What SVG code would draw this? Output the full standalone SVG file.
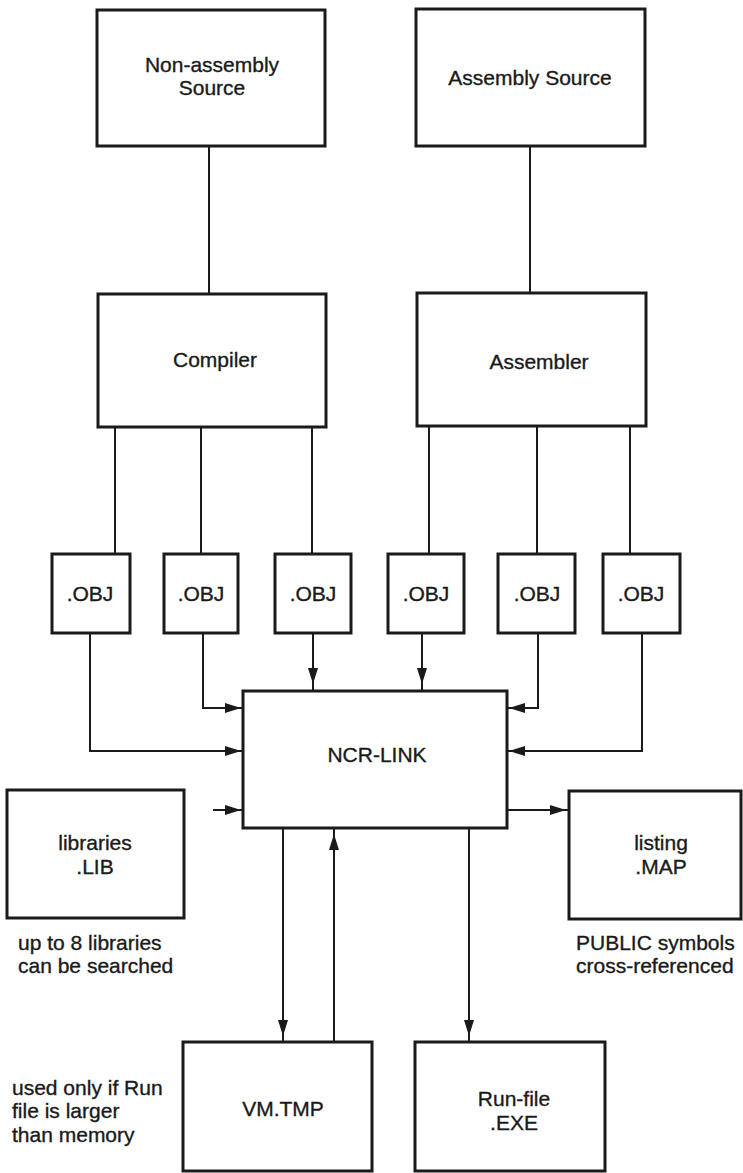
<svg xmlns="http://www.w3.org/2000/svg" xmlns:xlink="http://www.w3.org/1999/xlink" width="743" height="1173" viewBox="0 0 743 1173">
<style>
.box{fill:#fff;stroke:#1a1a1a;stroke-width:3}
.ln{fill:none;stroke:#1a1a1a;stroke-width:2}
.t{font-family:"Liberation Sans",Arial,sans-serif;font-size:21px;fill:#1a1a1a;stroke:#1a1a1a;stroke-width:0.35}
.c{text-anchor:middle}
</style>
<defs>
<path id="ah" d="M0,0 L-16,-5 L-16,5 Z" fill="#1a1a1a"/>
</defs>
<rect width="743" height="1173" fill="#fff"/>
<g id="connectors">
<path class="ln" d="M209,146 V294"/>
<path class="ln" d="M530,146 V293"/>
<path class="ln" d="M115,427 V554"/>
<path class="ln" d="M201,427 V554"/>
<path class="ln" d="M312,427 V554"/>
<path class="ln" d="M429,426 V554"/>
<path class="ln" d="M537,426 V554"/>
<path class="ln" d="M630,426 V554"/>
<path class="ln" d="M90,633 V751 H243"/>
<path class="ln" d="M203,633 V708 H243"/>
<path class="ln" d="M313,633 V691"/>
<path class="ln" d="M422,633 V691"/>
<path class="ln" d="M538,633 V708 H507"/>
<path class="ln" d="M642,633 V751 H507"/>
<path class="ln" d="M213,810 H243"/>
<path class="ln" d="M507,810 H569"/>
<path class="ln" d="M283,828 V1042"/>
<path class="ln" d="M334,828 V1042"/>
<path class="ln" d="M469,828 V1042"/>
<use href="#ah" transform="translate(241,751)"/>
<use href="#ah" transform="translate(241,708)"/>
<use href="#ah" transform="translate(313,684) rotate(90)"/>
<use href="#ah" transform="translate(422,684) rotate(90)"/>
<use href="#ah" transform="translate(509,708) rotate(180)"/>
<use href="#ah" transform="translate(509,751) rotate(180)"/>
<use href="#ah" transform="translate(241,810)"/>
<use href="#ah" transform="translate(566,810)"/>
<use href="#ah" transform="translate(283,1036) rotate(90)"/>
<use href="#ah" transform="translate(334,834) rotate(-90)"/>
<use href="#ah" transform="translate(469,1036) rotate(90)"/>
</g>
<g id="nonasm"><rect class="box" x="97" y="10" width="228" height="136"/><text class="t c" x="212" y="72">Non-assembly</text><text class="t c" x="212" y="95">Source</text></g>
<g id="asmsrc"><rect class="box" x="416" y="9" width="229" height="137"/><text class="t c" x="530" y="85">Assembly Source</text></g>
<g id="compiler"><rect class="box" x="98" y="294" width="228" height="133"/><text class="t c" x="215" y="367">Compiler</text></g>
<g id="assembler"><rect class="box" x="417" y="293" width="229" height="133"/><text class="t c" x="539" y="369">Assembler</text></g>
<g id="obj1"><rect class="box" x="52" y="554" width="78" height="79"/><text class="t c" x="90" y="601">.OBJ</text></g>
<g id="obj2"><rect class="box" x="164" y="554" width="74" height="79"/><text class="t c" x="201" y="601">.OBJ</text></g>
<g id="obj3"><rect class="box" x="275" y="554" width="76" height="79"/><text class="t c" x="313" y="601">.OBJ</text></g>
<g id="obj4"><rect class="box" x="388" y="554" width="76" height="79"/><text class="t c" x="426" y="601">.OBJ</text></g>
<g id="obj5"><rect class="box" x="498" y="554" width="77" height="79"/><text class="t c" x="537" y="601">.OBJ</text></g>
<g id="obj6"><rect class="box" x="603" y="554" width="77" height="79"/><text class="t c" x="641" y="601">.OBJ</text></g>
<g id="ncrlink"><rect class="box" x="243" y="691" width="264" height="137"/><text class="t c" x="377" y="762">NCR-LINK</text></g>
<g id="libraries"><rect class="box" x="7" y="790" width="177" height="128"/><text class="t c" x="95" y="850">libraries</text><text class="t c" x="95" y="874">.LIB</text><text class="t" x="18" y="950">up to 8 libraries</text><text class="t" x="18" y="973">can be searched</text></g>
<g id="listing"><rect class="box" x="569" y="791" width="172" height="128"/><text class="t c" x="661" y="850">listing</text><text class="t c" x="661" y="874">.MAP</text><text class="t" x="576" y="950">PUBLIC symbols</text><text class="t" x="576" y="973">cross-referenced</text></g>
<g id="vmtmp"><rect class="box" x="183" y="1042" width="189" height="129"/><text class="t c" x="283" y="1116">VM.TMP</text><text class="t" x="12" y="1095">used only if Run</text><text class="t" x="12" y="1118">file is larger</text><text class="t" x="12" y="1142">than memory</text></g>
<g id="runfile"><rect class="box" x="415" y="1042" width="190" height="129"/><text class="t c" x="514" y="1106">Run-file</text><text class="t c" x="514" y="1130">.EXE</text></g>
</svg>
